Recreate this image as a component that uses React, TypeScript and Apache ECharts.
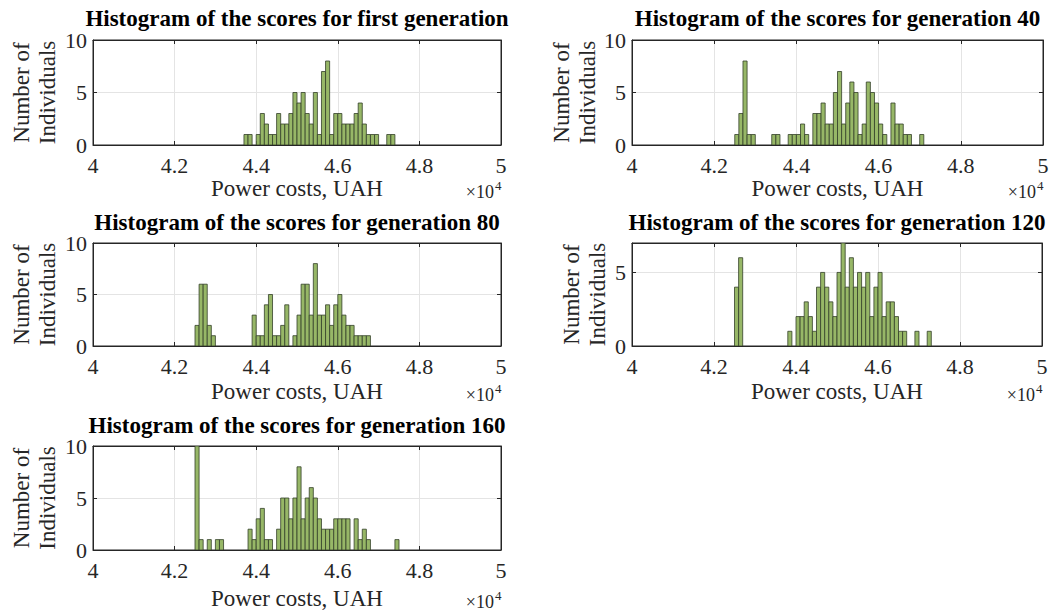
import React, { useEffect, useRef } from "react";
import * as echarts from "echarts";

// ---------- data ----------
const binWidth = 100; // UAH
const xMin = 40000;
const xMax = 50000;
const xStep = 2000;
const yStep = 5;

const titles = [
  "Histogram of the scores for first generation",
  "Histogram of the scores for generation 40",
  "Histogram of the scores for generation 80",
  "Histogram of the scores for generation 120",
  "Histogram of the scores for generation 160",
];
const xAxisName = "Power costs, UAH";
const yAxisNameLines = ["Number of", "Individuals"];
const exponentBase = "×10";
const exponentPower = "4";

const gen1Start = 43700;
const gen1Counts = [1, 1, 0, 1, 3, 2, 1, 1, 3, 2, 2, 3, 5, 4, 5, 3, 2, 5, 1, 7, 8, 1, 3, 3, 2, 2, 2, 3, 4, 2, 1, 1, 1, 0, 0, 1, 1];

const gen40Start = 42500;
const gen40Counts = [1, 3, 8, 1, 1, 0, 0, 0, 0, 1, 1, 0, 0, 1, 1, 1, 2, 1, 0, 3, 3, 4, 2, 2, 5, 7, 2, 4, 6, 5, 1, 2, 6, 5, 4, 2, 1, 0, 4, 2, 2, 1, 1, 0, 0, 1];

const gen80Start = 42500;
const gen80Counts = [2, 6, 6, 2, 1, 0, 0, 0, 0, 0, 0, 0, 0, 0, 3, 1, 1, 4, 5, 1, 1, 2, 4, 0, 1, 3, 6, 6, 3, 8, 3, 3, 4, 2, 4, 5, 3, 2, 2, 1, 1, 1, 1];

const gen120Start = 42500;
const gen120Counts = [4, 6, 0, 0, 0, 0, 0, 0, 0, 0, 0, 0, 0, 1, 0, 2, 2, 3, 2, 1, 4, 5, 4, 3, 2, 5, 7, 4, 6, 4, 5, 4, 5, 2, 4, 5, 2, 3, 3, 2, 1, 1, 0, 0, 1, 0, 0, 1];

const gen160Start = 42500;
const gen160Counts = [10, 1, 0, 1, 0, 1, 1, 0, 0, 0, 0, 0, 0, 2, 1, 3, 4, 1, 1, 0, 2, 5, 5, 3, 5, 8, 3, 5, 6, 5, 3, 2, 2, 2, 3, 3, 3, 3, 0, 3, 1, 2, 1, 0, 0, 0, 0, 0, 0, 1];

const starts = [gen1Start, gen40Start, gen80Start, gen120Start, gen160Start];
const counts = [gen1Counts, gen40Counts, gen80Counts, gen120Counts, gen160Counts];
const yMaxes = [10, 10, 10, 7, 10];

// ---------- layout & style ----------
const FONT = '"Liberation Serif", "Times New Roman", serif';
const TEXT = "#262626";
const GRID_LINE = "#e4e4e4";
const BAR_FILL = "#97b767";
const BAR_EDGE = "#34402a";

const layout = [
  { left: 93, top: 40, width: 408, height: 105, titleY: 18, xNameY: 188, expY: 192, y1: 21, y2: 47 },
  { left: 632, top: 40, width: 411, height: 105, titleY: 18, xNameY: 188, expY: 192, y1: 561, y2: 587 },
  { left: 93, top: 243, width: 408, height: 103, titleY: 222, xNameY: 391, expY: 395, y1: 21, y2: 47 },
  { left: 632, top: 243, width: 410, height: 103, titleY: 222, xNameY: 391, expY: 395, y1: 571, y2: 597 },
  { left: 93, top: 446, width: 408, height: 104, titleY: 425, xNameY: 598, expY: 602, y1: 21, y2: 47 },
];

function binsFor(start: number, arr: number[]) {
  const out: number[][] = [];
  arr.forEach((c, i) => {
    if (c > 0) out.push([start + i * binWidth, start + (i + 1) * binWidth, c]);
  });
  return out;
}

function buildOption() {
  const grid: any[] = [];
  const xAxis: any[] = [];
  const yAxis: any[] = [];
  const series: any[] = [];
  const graphic: any[] = [];

  layout.forEach((l, i) => {
    grid.push({
      left: l.left,
      top: l.top,
      width: l.width,
      height: l.height,
      show: true,
      borderColor: TEXT,
      borderWidth: 1,
      backgroundColor: "#ffffff",
    });
    const tickCommon = { show: true, inside: true, length: 4, lineStyle: { color: TEXT, width: 1 } };
    xAxis.push({
      type: "value",
      gridIndex: i,
      position: "bottom",
      min: xMin,
      max: xMax,
      interval: xStep,
      axisLine: { show: true, onZero: false, lineStyle: { color: TEXT, width: 1 } },
      axisTick: tickCommon,
      axisLabel: {
        show: true,
        margin: 9,
        fontFamily: FONT,
        fontSize: 22,
        color: TEXT,
        formatter: (v: number) => String(Math.round(v / 1000) / 10),
      },
      splitLine: { show: true, lineStyle: { color: GRID_LINE, width: 1 } },
    });
    xAxis.push({
      type: "value",
      gridIndex: i,
      position: "top",
      min: xMin,
      max: xMax,
      interval: xStep,
      axisLine: { show: true, onZero: false, lineStyle: { color: TEXT, width: 1 } },
      axisTick: tickCommon,
      axisLabel: { show: false },
      splitLine: { show: false },
    });
    yAxis.push({
      type: "value",
      gridIndex: i,
      position: "left",
      min: 0,
      max: yMaxes[i],
      interval: yStep,
      axisLine: { show: true, onZero: false, lineStyle: { color: TEXT, width: 1 } },
      axisTick: tickCommon,
      axisLabel: {
        show: true,
        margin: 6,
        fontFamily: FONT,
        fontSize: 22,
        color: TEXT,
        formatter: (v: number) => (v % yStep === 0 ? String(v) : ""),
      },
      splitLine: { show: true, lineStyle: { color: GRID_LINE, width: 1 } },
    });
    yAxis.push({
      type: "value",
      gridIndex: i,
      position: "right",
      min: 0,
      max: yMaxes[i],
      interval: yStep,
      axisLine: { show: true, onZero: false, lineStyle: { color: TEXT, width: 1 } },
      axisTick: tickCommon,
      axisLabel: { show: false },
      splitLine: { show: false },
    });
    series.push({
      type: "custom",
      xAxisIndex: 2 * i,
      yAxisIndex: 2 * i,
      data: binsFor(starts[i], counts[i]),
      encode: { x: [0, 1], y: 2 },
      clip: true,
      renderItem: (params: any, api: any) => {
        const p0 = api.coord([api.value(0), api.value(2)]);
        const p1 = api.coord([api.value(1), 0]);
        return {
          type: "rect",
          shape: { x: p0[0], y: p0[1], width: p1[0] - p0[0], height: p1[1] - p0[1] },
          style: { fill: BAR_FILL, stroke: BAR_EDGE, lineWidth: 0.8 },
        };
      },
    });

    const cx = l.left + l.width / 2;
    const cy = l.top + l.height / 2;
    const txt = (text: string, x: number, y: number, extra: any = {}, rotation = 0) => ({
      type: "text",
      x,
      y,
      rotation,
      silent: true,
      style: {
        text,
        fontFamily: FONT,
        fontSize: 23,
        fill: TEXT,
        align: "center",
        verticalAlign: "middle",
        textAlign: "center",
        textVerticalAlign: "middle",
        ...extra,
      },
    });
    graphic.push(txt(titles[i], cx, l.titleY, { fontWeight: "bold", fontSize: 23, fill: "#000000" }));
    graphic.push(txt(xAxisName, cx, l.xNameY));
    graphic.push(txt(yAxisNameLines[0], l.y1, cy, {}, Math.PI / 2));
    graphic.push(txt(yAxisNameLines[1], l.y2, cy, {}, Math.PI / 2));
    const right = l.left + l.width;
    graphic.push(
      txt(exponentBase, right - 7, l.expY, { fontSize: 18, align: "right", textAlign: "right" })
    );
    graphic.push(
      txt(exponentPower, right - 6, l.expY - 7, { fontSize: 13, align: "left", textAlign: "left" })
    );
  });

  return {
    animation: false,
    backgroundColor: "#ffffff",
    grid,
    xAxis,
    yAxis,
    series,
    graphic: { elements: graphic },
  };
}

export default function App() {
  const ref = useRef<HTMLDivElement>(null);
  useEffect(() => {
    if (!ref.current) return;
    const chart = echarts.init(ref.current, undefined, { renderer: "svg" });
    chart.setOption(buildOption() as any);
    return () => chart.dispose();
  }, []);
  return (
    <div
      ref={ref}
      style={{ position: "fixed", left: 0, top: 0, width: 1054, height: 615, background: "#fff" }}
    />
  );
}
